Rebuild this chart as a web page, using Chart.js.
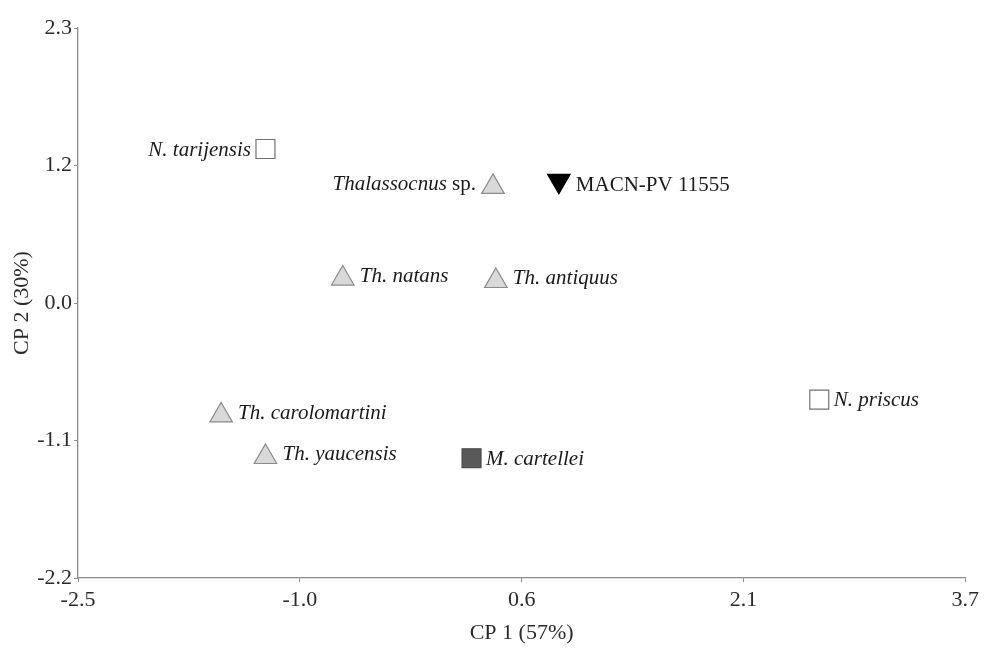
<!DOCTYPE html>
<html>
<head>
<meta charset="utf-8">
<script src="https://cdn.jsdelivr.net/npm/chart.js@4/dist/chart.umd.min.js"></script>
<style>
  html, body { margin: 0; padding: 0; background: #fff; }
  #wrap { width: 984px; height: 652px; }
</style>
</head>
<body>
<div id="wrap"><canvas id="pca"></canvas></div>
<script>
// Principal component scores (CP 1 vs CP 2) for each taxon / specimen
const taxa = ['N. tarijensis', 'Thalassocnus sp.', 'MACN-PV 11555', 'Th. natans', 'Th. antiquus',
              'Th. carolomartini', 'Th. yaucensis', 'M. cartellei', 'N. priscus'];
const groups = ['Nothrotherium', 'Thalassocnus', 'specimen', 'Thalassocnus', 'Thalassocnus',
                'Thalassocnus', 'Thalassocnus', 'Mionothropus', 'Nothrotherium'];
const cp1 = [-1.19, 0.40, 0.86, -0.65, 0.42, -1.50, -1.19, 0.25, 2.68];
const cp2 = [1.31, 1.00, 1.05, 0.25, 0.23, -0.87, -1.21, -1.22, -0.74];

const xTickLabels = ['-2.5', '-1.0', '0.6', '2.1', '3.7'];
const yTickLabels = ['-2.2', '-1.1', '0.0', '1.2', '2.3'];
const xRange = [-2.5, 3.7];
const yRange = [-2.2, 2.3];

// Marker appearance per group
const groupStyle = {
  Nothrotherium: { pointStyle: 'rect', radius: 13.4, bg: '#ffffff', border: '#707070', rotation: 0 },
  Thalassocnus:  { pointStyle: 'triangle', radius: 13, bg: '#d9d9d9', border: '#8a8a8a', rotation: 0 },
  specimen:      { pointStyle: 'triangle', radius: 13, bg: '#000000', border: '#000000', rotation: 180 },
  Mionothropus:  { pointStyle: 'rect', radius: 13.4, bg: '#595959', border: '#4a4a4a', rotation: 0 }
};
// Which side of the marker each name is written on
const labelLeft = new Set(['N. tarijensis', 'Thalassocnus sp.']);

const SERIF = '"Liberation Serif", "Times New Roman", serif';

const groupNames = [...new Set(groups)];
const datasets = groupNames.map(g => {
  const idx = taxa.map((t, i) => i).filter(i => groups[i] === g);
  const s = groupStyle[g];
  return {
    label: g,
    data: idx.map(i => ({ x: cp1[i], y: cp2[i], name: taxa[i] })),
    pointStyle: s.pointStyle,
    rotation: s.rotation,
    pointRadius: s.radius,
    pointHoverRadius: s.radius,
    backgroundColor: s.bg,
    borderColor: s.border,
    borderWidth: 1.2
  };
});

// Writes each taxon name beside its marker (genus/species italic, "sp." and specimen numbers upright)
const nameLabels = {
  id: 'nameLabels',
  afterDatasetsDraw(chart) {
    const ctx = chart.ctx;
    ctx.save();
    ctx.fillStyle = '#1a1a1a';
    ctx.textBaseline = 'middle';
    chart.data.datasets.forEach((ds, di) => {
      const meta = chart.getDatasetMeta(di);
      const s = groupStyle[ds.label];
      meta.data.forEach((pt, j) => {
        const name = ds.data[j].name;
        let italic = name, plain = '';
        if (ds.label === 'specimen') { italic = ''; plain = name; }
        else if (name.endsWith(' sp.')) { italic = name.slice(0, -4); plain = ' sp.'; }
        const fItal = 'italic 21px ' + SERIF;
        const fPlain = '21px ' + SERIF;
        ctx.font = fItal; const wI = italic ? ctx.measureText(italic).width : 0;
        ctx.font = fPlain; const wP = plain ? ctx.measureText(plain).width : 0;
        let cy = pt.y;
        if (s.pointStyle === 'triangle') cy += (s.rotation ? 1 : -1) * s.radius / 4;
        const gap = s.pointStyle === 'triangle' ? 17 : 14.5;
        let x0 = labelLeft.has(name) ? pt.x - gap - (wI + wP) : pt.x + gap;
        if (italic) { ctx.font = fItal; ctx.fillText(italic, x0, cy + 1); }
        if (plain) { ctx.font = fPlain; ctx.fillText(plain, x0 + wI, cy + 1); }
      });
    });
    ctx.restore();
  }
};

function evenTicks(range) {
  return scale => {
    const n = 4;
    scale.ticks = [];
    for (let i = 0; i <= n; i++) scale.ticks.push({ value: range[0] + (range[1] - range[0]) * i / n });
  };
}

new Chart(document.getElementById('pca'), {
  type: 'scatter',
  data: { datasets },
  options: {
    responsive: true,
    maintainAspectRatio: false,
    animation: false,
    layout: { padding: { top: 28, right: 16, left: 0, bottom: 0 } },
    plugins: { legend: { display: false }, tooltip: { enabled: false } },
    scales: {
      x: {
        type: 'linear',
        min: xRange[0], max: xRange[1],
        afterBuildTicks: evenTicks(xRange),
        afterFit: s => { s.height = 74; },
        border: { display: true, color: '#8c8c8c', width: 1.3 },
        grid: { display: true, drawOnChartArea: false, drawTicks: true, tickLength: 4, color: '#8c8c8c' },
        ticks: {
          autoSkip: false, maxRotation: 0, padding: 5,
          color: '#2a2a2a', font: { family: SERIF, size: 22 },
          callback: (v, i) => xTickLabels[i]
        },
        title: {
          display: true, text: 'CP 1 (57%)', color: '#2a2a2a',
          font: { family: SERIF, size: 22 }, padding: { top: 0, bottom: 6 }
        }
      },
      y: {
        type: 'linear',
        min: yRange[0], max: yRange[1],
        afterBuildTicks: evenTicks(yRange),
        afterFit: s => { s.width = 78; },
        border: { display: true, color: '#8c8c8c', width: 1.3 },
        grid: { display: true, drawOnChartArea: false, drawTicks: true, tickLength: 4, color: '#8c8c8c' },
        ticks: {
          autoSkip: false, padding: 2,
          color: '#2a2a2a', font: { family: SERIF, size: 22 },
          callback: (v, i) => yTickLabels[i]
        },
        title: {
          display: true, text: 'CP 2 (30%)', color: '#2a2a2a',
          font: { family: SERIF, size: 22 }, padding: { top: 9, bottom: 0 }
        }
      }
    }
  },
  plugins: [nameLabels]
});
</script>
</body>
</html>
